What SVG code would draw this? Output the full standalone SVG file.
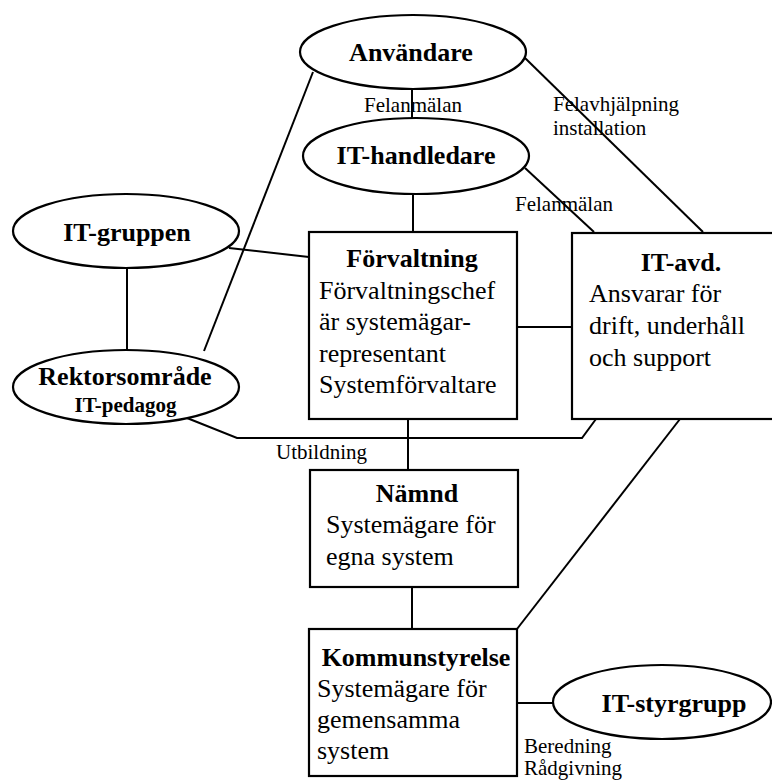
<svg xmlns="http://www.w3.org/2000/svg" width="772" height="783" viewBox="0 0 772 783">
<style>
.shape{fill:#fff;stroke:#000;stroke-width:2.2}
.edge{fill:none;stroke:#000;stroke-width:2}
.t{font-family:"Liberation Serif","Times New Roman",serif;fill:#000}
.b{font-weight:bold;font-size:26px}
.n{font-size:26px}
.s{font-size:21px}
</style>
<rect width="772" height="783" fill="#fff"/>
<g id="connectors">
<line class="edge" x1="412" y1="89" x2="412" y2="118"/>
<line class="edge" x1="413" y1="194" x2="413" y2="232"/>
<line class="edge" x1="525" y1="58" x2="703" y2="232"/>
<line class="edge" x1="525" y1="168" x2="594" y2="232"/>
<line class="edge" x1="204" y1="351" x2="313" y2="72"/>
<line class="edge" x1="127" y1="268" x2="127" y2="350"/>
<line class="edge" x1="229" y1="248" x2="309" y2="257"/>
<line class="edge" x1="517" y1="327" x2="572" y2="327"/>
<polyline class="edge" points="187,418 237,438 582,438 596,419"/>
<line class="edge" x1="408" y1="419" x2="408" y2="470"/>
<line class="edge" x1="412" y1="587" x2="412" y2="629"/>
<line class="edge" x1="517" y1="629" x2="680" y2="419"/>
<line class="edge" x1="517" y1="703" x2="553" y2="703"/>
<text class="t s" x="364" y="112">Felanmälan</text>
<text class="t s" x="553" y="111">Felavhjälpning</text>
<text class="t s" x="553" y="135">installation</text>
<text class="t s" x="515" y="211">Felanmälan</text>
<text class="t s" x="276" y="459">Utbildning</text>
<text class="t s" x="524" y="753">Beredning</text>
<text class="t s" x="524" y="775">Rådgivning</text>
</g>
<g id="anvandare">
<ellipse class="shape" cx="413" cy="52" rx="113" ry="37"/>
<text class="t b" x="411" y="61" text-anchor="middle">Användare</text>
</g>
<g id="it-handledare">
<ellipse class="shape" cx="416" cy="156" rx="113" ry="38"/>
<text class="t b" x="416" y="164" text-anchor="middle">IT-handledare</text>
</g>
<g id="it-gruppen">
<ellipse class="shape" cx="126" cy="231" rx="113" ry="37"/>
<text class="t b" x="127" y="241" text-anchor="middle">IT-gruppen</text>
</g>
<g id="rektorsomrade">
<ellipse class="shape" cx="126" cy="387" rx="113" ry="37"/>
<text class="t b" x="125" y="385" text-anchor="middle">Rektorsområde</text>
<text class="t" x="125.5" y="412" text-anchor="middle" font-weight="bold" font-size="21">IT-pedagog</text>
</g>
<g id="forvaltning">
<rect class="shape" x="309" y="232" width="208" height="187"/>
<text class="t b" x="412" y="267" text-anchor="middle">Förvaltning</text>
<text class="t n" x="319" y="299">Förvaltningschef</text>
<text class="t n" x="319" y="330">är systemägar-</text>
<text class="t n" x="319" y="362">representant</text>
<text class="t n" x="319" y="393">Systemförvaltare</text>
</g>
<g id="it-avd">
<rect class="shape" x="572" y="233" width="210" height="186"/>
<text class="t b" x="681" y="271" text-anchor="middle">IT-avd.</text>
<text class="t n" x="589" y="302">Ansvarar för</text>
<text class="t n" x="589" y="334">drift, underhåll</text>
<text class="t n" x="589" y="366">och support</text>
</g>
<g id="namnd">
<rect class="shape" x="310" y="470" width="208" height="117"/>
<text class="t b" x="417" y="502" text-anchor="middle">Nämnd</text>
<text class="t n" x="326" y="533">Systemägare för</text>
<text class="t n" x="326" y="565">egna system</text>
</g>
<g id="kommunstyrelse">
<rect class="shape" x="309" y="629" width="208" height="147"/>
<text class="t b" x="416" y="666" text-anchor="middle">Kommunstyrelse</text>
<text class="t n" x="317" y="697">Systemägare för</text>
<text class="t n" x="317" y="728">gemensamma</text>
<text class="t n" x="317" y="759">system</text>
</g>
<g id="it-styrgrupp">
<ellipse class="shape" cx="662" cy="702" rx="109" ry="37"/>
<text class="t b" x="674" y="712" text-anchor="middle">IT-styrgrupp</text>
</g>
</svg>
